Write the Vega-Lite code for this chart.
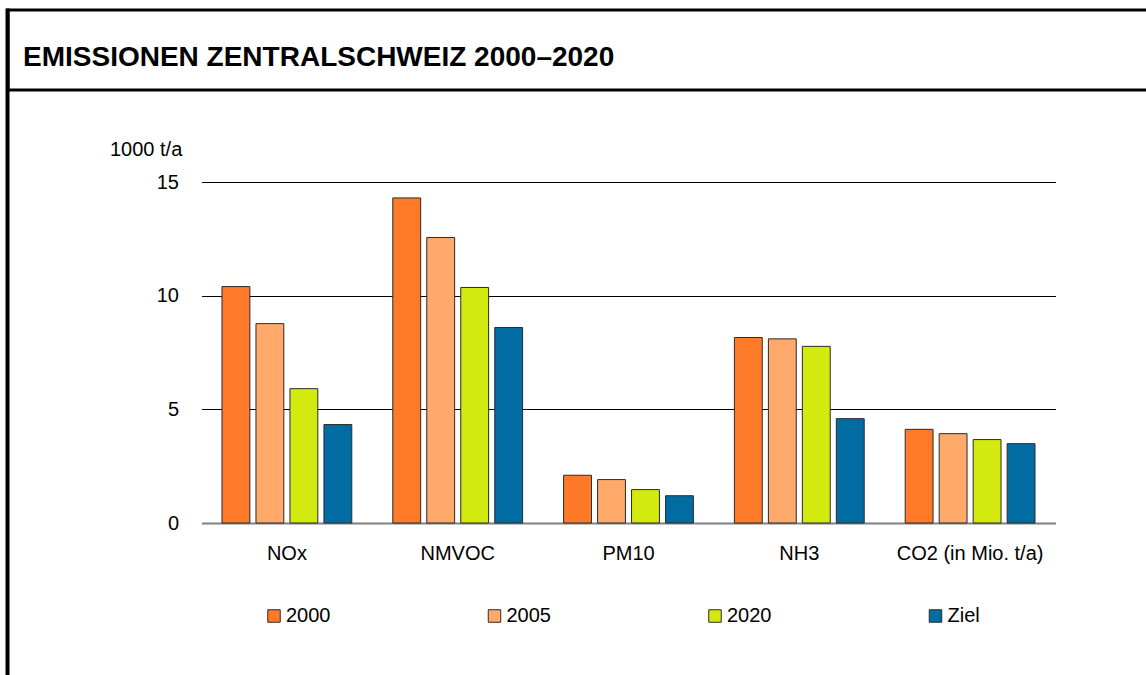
{
  "$schema": "https://vega.github.io/schema/vega-lite/v6.json",
  "padding": {"left": 5, "top": 8, "right": 0, "bottom": 0},
  "background": "white",
  "config": {"font": "Liberation Sans", "view": {"stroke": null}},
  "spacing": 0,
  "bounds": "flush",
  "hconcat": [
    {
      "width": 1,
      "height": 680,
      "data": {"values": [{"part": "frame"}]},
      "mark": {"type": "rect", "fill": "black", "stroke": "black", "strokeWidth": 3},
      "encoding": {}
    },
    {
      "spacing": 92,
      "bounds": "flush",
      "center": true,
      "vconcat": [
        {
          "width": 1241,
          "height": 80,
          "view": {"stroke": "black", "strokeWidth": 3},
          "title": {
            "text": "EMISSIONEN ZENTRALSCHWEIZ 2000–2020",
            "anchor": "start",
            "frame": "group",
            "fontSize": 28,
            "fontWeight": "bold",
            "color": "black",
            "font": "Liberation Sans",
            "dx": 15,
            "dy": 27,
            "offset": -57,
            "baseline": "alphabetic"
          },
          "data": {"values": [{"part": "header"}]},
          "mark": {"type": "rect", "fill": "white", "opacity": 0},
          "encoding": {}
        },
        {
          "width": 854,
          "height": 341,
          "data": {
            "values": [
              {"Schadstoff": "NOx", "Jahr": "2000", "Wert": 10.40},
              {"Schadstoff": "NOx", "Jahr": "2005", "Wert": 8.77},
              {"Schadstoff": "NOx", "Jahr": "2020", "Wert": 5.91},
              {"Schadstoff": "NOx", "Jahr": "Ziel", "Wert": 4.33},
              {"Schadstoff": "NMVOC", "Jahr": "2000", "Wert": 14.30},
              {"Schadstoff": "NMVOC", "Jahr": "2005", "Wert": 12.56},
              {"Schadstoff": "NMVOC", "Jahr": "2020", "Wert": 10.36},
              {"Schadstoff": "NMVOC", "Jahr": "Ziel", "Wert": 8.60},
              {"Schadstoff": "PM10", "Jahr": "2000", "Wert": 2.10},
              {"Schadstoff": "PM10", "Jahr": "2005", "Wert": 1.91},
              {"Schadstoff": "PM10", "Jahr": "2020", "Wert": 1.47},
              {"Schadstoff": "PM10", "Jahr": "Ziel", "Wert": 1.20},
              {"Schadstoff": "NH3", "Jahr": "2000", "Wert": 8.16},
              {"Schadstoff": "NH3", "Jahr": "2005", "Wert": 8.10},
              {"Schadstoff": "NH3", "Jahr": "2020", "Wert": 7.77},
              {"Schadstoff": "NH3", "Jahr": "Ziel", "Wert": 4.59},
              {"Schadstoff": "CO2 (in Mio. t/a)", "Jahr": "2000", "Wert": 4.12},
              {"Schadstoff": "CO2 (in Mio. t/a)", "Jahr": "2005", "Wert": 3.93},
              {"Schadstoff": "CO2 (in Mio. t/a)", "Jahr": "2020", "Wert": 3.67},
              {"Schadstoff": "CO2 (in Mio. t/a)", "Jahr": "Ziel", "Wert": 3.49}
            ]
          },
          "mark": {"type": "bar", "stroke": "#2b2b2b", "strokeWidth": 1},
          "encoding": {
            "x": {
              "field": "Schadstoff",
              "type": "nominal",
              "sort": ["NOx", "NMVOC", "PM10", "NH3", "CO2 (in Mio. t/a)"],
              "scale": {"paddingInner": 0.24, "paddingOuter": 0.12},
              "axis": {
                "title": null,
                "labelAngle": 0,
                "labelFontSize": 20,
                "labelColor": "black",
                "labelPadding": 20,
                "ticks": false,
                "grid": false,
                "domainColor": "#808080",
                "domainWidth": 2
              }
            },
            "xOffset": {
              "field": "Jahr",
              "type": "nominal",
              "sort": ["2000", "2005", "2020", "Ziel"],
              "scale": {"paddingInner": 0.18, "paddingOuter": 0}
            },
            "y": {
              "field": "Wert",
              "type": "quantitative",
              "scale": {"domain": [0, 15], "nice": false},
              "axis": {
                "values": [0, 5, 10, 15],
                "title": "1000 t/a",
                "titleAngle": 0,
                "titleAlign": "left",
                "titleBaseline": "alphabetic",
                "titleX": -92,
                "titleY": -27,
                "titleFontSize": 20,
                "titleFontWeight": "normal",
                "titleColor": "black",
                "labelFontSize": 20,
                "labelColor": "black",
                "labelPadding": 23,
                "ticks": false,
                "domain": false,
                "gridColor": "black",
                "gridWidth": 1,
                "gridOpacity": {"condition": {"test": "datum.value === 0", "value": 0}, "value": 1}
              }
            },
            "color": {
              "field": "Jahr",
              "type": "nominal",
              "scale": {
                "domain": ["2000", "2005", "2020", "Ziel"],
                "range": ["#FF7A28", "#FFAA6A", "#D3EA10", "#006CA2"]
              },
              "legend": {
                "title": null,
                "orient": "none",
                "legendX": 257,
                "legendY": 596,
                "direction": "horizontal",
                "columns": 4,
                "symbolType": "square",
                "symbolSize": 156,
                "symbolStrokeColor": "#2b2b2b",
                "symbolStrokeWidth": 1,
                "symbolOpacity": 1,
                "labelFontSize": 20,
                "labelColor": "black",
                "labelOffset": 2,
                "columnPadding": 153.5
              }
            }
          }
        }
      ]
    }
  ]
}
